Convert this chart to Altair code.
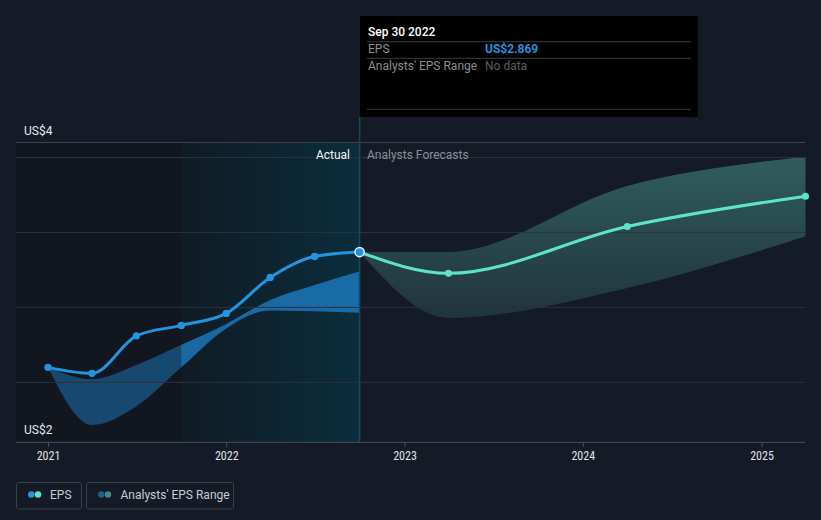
import altair as alt
import pandas as pd

# ---------------- data ----------------
past_dates = ["2020-12-31", "2021-03-31", "2021-06-30", "2021-09-30",
              "2021-12-31", "2022-03-31", "2022-06-30", "2022-09-30"]
past_eps = [2.10, 2.06, 2.31, 2.38, 2.46, 2.70, 2.84, 2.869]
past_low = [2.10, 1.715, 1.84, 2.10, 2.36, 2.48, 2.475, 2.464]
past_high = [2.10, 2.02, 2.115, 2.25, 2.39, 2.55, 2.65, 2.74]

fc_dates = ["2022-09-30", "2023-03-31", "2024-03-31", "2025-03-31"]
fc_eps = [2.869, 2.727, 3.04, 3.242]
fc_low = [2.869, 2.43, 2.63, 2.975]
fc_high = [2.869, 2.87, 3.31, 3.505]

year_ticks = ["2021-01-01", "2022-01-01", "2023-01-01", "2024-01-01", "2025-01-01"]
year_labels = ["2021", "2022", "2023", "2024", "2025"]

grid_values = [2.0, 2.5, 3.0, 3.5]
y_label_values = [1.6, 3.6]
y_label_texts = ["US$2", "US$4"]

highlight_start = "2021-09-30"
present_date = "2022-09-30"

# ---------------- style ----------------
BG = "#151b26"
BLUE = "#2394df"
TEAL = "#5de3cc"
FONT = "Roboto"
NARROW = "Liberation Sans Narrow, Roboto Condensed, Roboto"

xs = alt.Scale(domain=[alt.DateTime(year=2020, month=10, date=26, hours=12, utc=True),
                       alt.DateTime(year=2025, month=3, date=30, utc=True)],
               range=[16, 805], nice=False)
ys = alt.Scale(domain=[1.6, 3.6], range=[442.3, 142.5], nice=False, zero=False)

past_df = pd.DataFrame({"date": past_dates, "eps": past_eps, "low": past_low, "high": past_high})
fc_df = pd.DataFrame({"date": fc_dates, "eps": fc_eps, "low": fc_low, "high": fc_high})
reg_df = pd.DataFrame({"start": [highlight_start], "end": [present_date], "top": [3.6], "bot": [1.6]})
dim_df = pd.DataFrame({"start": ["2020-10-26T12:00:00Z"], "end": [highlight_start], "top": [3.6], "bot": [1.6]})
grid_df = pd.DataFrame({"v": grid_values})
ylab_df = pd.DataFrame({"v": y_label_values, "t": y_label_texts})
year_df = pd.DataFrame({"date": year_ticks, "t": year_labels})
present_df = pd.DataFrame({"date": [present_date], "eps": [past_eps[-1]]})

X = lambda f: alt.X(f, type="temporal", scale=xs, axis=None)
Y = lambda f: alt.Y(f, type="quantitative", scale=ys, axis=None)

highlight = alt.Chart(reg_df).mark_rect(
    fill=alt.Gradient(gradient="linear",
                      stops=[alt.GradientStop(color="#0f1b25", offset=0),
                             alt.GradientStop(color="#0b2d3c", offset=1)],
                      x1=0, x2=1, y1=0, y2=0)
).encode(x=X("start"), x2="end:T", y=Y("top"), y2="bot:Q")

band_past = alt.Chart(past_df).mark_area(
    interpolate="monotone", color="#2088d5", opacity=0.7
).encode(x=X("date"), y=Y("low"), y2="high:Q")

band_fc = alt.Chart(fc_df).mark_area(
    interpolate="monotone",
    color=alt.Gradient(gradient="linear",
                       stops=[alt.GradientStop(color="rgba(88,184,168,0.42)", offset=0),
                              alt.GradientStop(color="rgba(88,184,168,0.16)", offset=1)],
                       x1=0, x2=0, y1=0, y2=1)
).encode(x=X("date"), y=Y("low"), y2="high:Q")

dim = alt.Chart(dim_df).mark_rect(fill="#0f1012", opacity=0.34).encode(
    x=X("start"), x2="end:T", y=Y("top"), y2="bot:Q")

grid = alt.Chart(grid_df).mark_rule(color="#2c323d", strokeWidth=1).encode(
    y=Y("v"), x=alt.value(16), x2=alt.value(805))
top_line = alt.Chart(pd.DataFrame({"v": [3.6]})).mark_rule(color="#3c424c", strokeWidth=1).encode(
    y=Y("v"), x=alt.value(16), x2=alt.value(805))
base_line = alt.Chart(pd.DataFrame({"v": [1.6]})).mark_rule(color="#4a4f59", strokeWidth=1).encode(
    y=Y("v"), x=alt.value(16), x2=alt.value(805))
ticks = alt.Chart(year_df).mark_rule(color="#4a4f59", strokeWidth=1).encode(
    x=X("date"), y=alt.value(442.3), y2=alt.value(447))
year_text = alt.Chart(year_df).mark_text(
    font=NARROW, fontSize=12, color="#e0e2e6", baseline="alphabetic", align="center"
).encode(x=X("date"), y=alt.value(459.5), text="t:N")

ylabels = alt.Chart(ylab_df).mark_text(
    font=FONT, fontSize=12, color="#e6e8eb", align="left", baseline="alphabetic", dy=-8
).encode(y=Y("v"), x=alt.value(24), text="t:N")

vline = alt.Chart(present_df).mark_rule(color="#17485b", strokeWidth=1.5).encode(
    x=X("date"), y=alt.value(117), y2=alt.value(442.3))

line_past = alt.Chart(past_df).mark_line(
    interpolate="monotone", color=BLUE, strokeWidth=3
).encode(x=X("date"), y=Y("eps"))
pts_past = alt.Chart(past_df.iloc[:-1]).mark_circle(color=BLUE, size=55, opacity=1).encode(
    x=X("date"), y=Y("eps"))

line_fc = alt.Chart(fc_df).mark_line(
    interpolate="monotone", color=TEAL, strokeWidth=3
).encode(x=X("date"), y=Y("eps"))
pts_fc = alt.Chart(fc_df.iloc[1:]).mark_circle(color=TEAL, size=50, opacity=1).encode(
    x=X("date"), y=Y("eps"))

present_pt = alt.Chart(present_df).mark_point(
    filled=True, fill=BLUE, stroke="#e8f0f8", strokeWidth=1.5, size=85, opacity=1
).encode(x=X("date"), y=Y("eps"))


def txt(s, x, y, color, size=12, weight="normal", align="left", font=FONT):
    return alt.Chart(pd.DataFrame({"t": [s]})).mark_text(
        font=font, fontSize=size, color=color, fontWeight=weight, align=align,
        baseline="alphabetic"
    ).encode(x=alt.value(x), y=alt.value(y), text="t:N")


actual_lbl = txt("Actual", 350, 158.5, "#f2f4f6", align="right")
fc_lbl = txt("Analysts Forecasts", 367, 158.5, "#8a8f98")

# tooltip box
tip_box = alt.Chart(pd.DataFrame({"a": [0]})).mark_rect(fill="#000000").encode(
    x=alt.value(360), x2=alt.value(698), y=alt.value(16), y2=alt.value(117))
tip_lines = alt.Chart(pd.DataFrame({"yy": [41.7, 58.3, 109.3]})).mark_rule(
    color="#3a3d42", strokeWidth=1).encode(
    y=alt.Y("yy:Q", scale=None), x=alt.value(367), x2=alt.value(691))
tip_title = txt("Sep 30 2022", 368, 36, "#ffffff", weight=500)
tip_eps = txt("EPS", 368, 53, "#8c8f94")
tip_eps_v = txt("US$2.869", 485, 53, BLUE, weight="bold")
tip_rng = txt("Analysts' EPS Range", 368, 70, "#8c8f94")
tip_rng_v = txt("No data", 485, 70, "#5c5f64")

# legend
leg_boxes = alt.Chart(pd.DataFrame({"x1": [16.5, 86.5], "x2": [81.5, 233.5]})).mark_rect(
    fill="transparent", stroke="#3b404a", strokeWidth=1, cornerRadius=2
).encode(x=alt.X("x1:Q", scale=None), x2="x2:Q", y=alt.value(482.5), y2=alt.value(509))
leg_dots = alt.Chart(pd.DataFrame({
    "cx": [31.3, 38.0, 101.3, 108.0],
    "c": ["#2394df", "#5de3cc", "#1f5f8f", "#3e8a80"]})).mark_circle(size=42, opacity=1).encode(
    x=alt.X("cx:Q", scale=None), y=alt.value(494.5), color=alt.Color("c:N", scale=None))
leg_t1 = txt("EPS", 50, 498.5, "#c8cbd0")
leg_t2 = txt("Analysts' EPS Range", 120.5, 498.5, "#c8cbd0")

chart = alt.layer(
    highlight, band_past, band_fc, dim,
    grid, top_line, base_line, ticks, year_text, ylabels,
    vline, line_past, line_fc, pts_past, pts_fc, present_pt,
    actual_lbl, fc_lbl,
    tip_box, tip_lines, tip_title, tip_eps, tip_eps_v, tip_rng, tip_rng_v,
    leg_boxes, leg_dots, leg_t1, leg_t2,
).properties(
    width=821, height=520, background=BG, padding=0, autosize="none"
).configure_view(strokeWidth=0)

chart.save("out.html", embed_options={"renderer": "svg", "actions": False})
